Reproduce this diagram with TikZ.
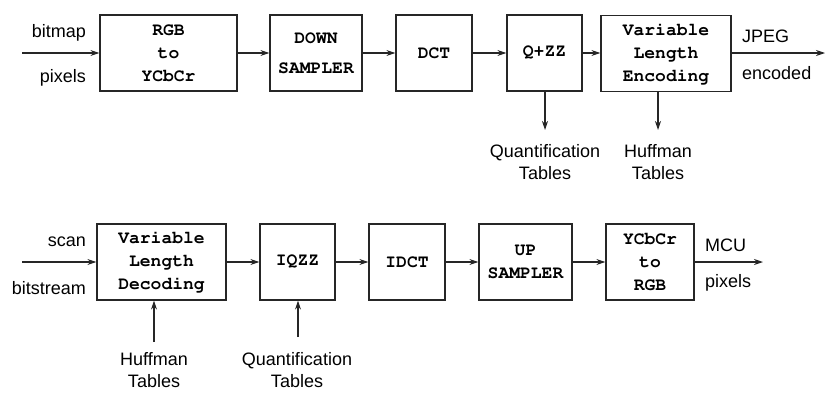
\documentclass[tikz,border=0pt]{standalone}
\usepackage{fontspec}
\setmainfont{Liberation Sans}
\setmonofont{Liberation Mono}
\usetikzlibrary{arrows.meta}
\newcommand{\cour}{\fontencoding{OT1}\fontfamily{pcr}\fontseries{b}\selectfont}
\begin{document}
\begin{tikzpicture}[x=1pt,y=-1pt,
  blk/.style={draw=black!85,line width=1.2pt,minimum height=76pt,inner sep=0pt,align=center,
    font=\fontsize{18}{23}\cour},
  lbl/.style={inner sep=0pt,align=center,font=\fontsize{18}{22}\selectfont},
  arr/.style={line width=1.1pt,draw=black!85,-{Stealth[length=9pt,width=6pt,inset=3pt]}}]
\useasboundingbox (0,0) rectangle (837,405);
% top row
\node[blk,minimum width=137pt] (rgb) at (168.5,53) {RGB\\to\\YCbCr};
\node[blk,minimum width=92pt] (down) at (316,53) {DOWN\\[7pt]SAMPLER};
\node[blk,minimum width=76pt] (dct) at (434,53) {DCT};
\node[blk,minimum width=75pt] (qzz) at (544.5,53) {Q+ZZ};
\node[blk,minimum width=130pt] (vle) at (666,53.5) {Variable\\Length\\Encoding};
\coordinate (tin) at (22,53);
\coordinate (tout) at (825,53);
\coordinate (qt) at (545,130);
\coordinate (ht) at (658,130);
\draw[arr] (tin) -- (rgb.west);
\draw[arr] (rgb) -- (down);
\draw[arr] (down) -- (dct);
\draw[arr] (dct) -- (qzz);
\draw[arr] (qzz) -- (vle.west |- qzz);
\draw[arr] (vle.east |- tout) -- (tout);
\draw[arr] (qzz.south -| qt) -- (qt);
\draw[arr] (vle.south -| ht) -- (ht);
\node[lbl,anchor=east] (bitmap) at (86,33) {bitmap};
\node[lbl,anchor=east] (pix1) at (86,78) {pixels};
\node[lbl,anchor=west] (jpeg) at (742,36) {JPEG};
\node[lbl,anchor=west] (enc) at (742,73) {encoded};
\node[lbl] (qtab1) at (545,162) {Quantification\\Tables};
\node[lbl] (htab1) at (658,162) {Huffman\\Tables};
% bottom row
\node[blk,minimum width=129pt] (vld) at (161.5,262) {Variable\\Length\\Decoding};
\node[blk,minimum width=75pt] (iqzz) at (297.5,262) {IQZZ};
\node[blk,minimum width=76pt] (idct) at (407,262) {IDCT};
\node[blk,minimum width=93pt] (up) at (525.5,262) {UP\\SAMPLER};
\node[blk,minimum width=88pt] (ycc) at (650,262) {YCbCr\\to\\RGB};
\coordinate (bin) at (22,262);
\coordinate (bout) at (763,262);
\coordinate (hb) at (154,342);
\coordinate (qb) at (298,337);
\draw[arr] (bin) -- (vld.west);
\draw[arr] (vld) -- (iqzz);
\draw[arr] (iqzz) -- (idct);
\draw[arr] (idct) -- (up);
\draw[arr] (up) -- (ycc);
\draw[arr] (ycc.east) -- (bout);
\draw[arr] (hb) -- (vld.south -| hb);
\draw[arr] (qb) -- (iqzz.south -| qb);
\node[lbl,anchor=east] (scan) at (86,242) {scan};
\node[lbl,anchor=east] (bits) at (86,288) {bitstream};
\node[lbl,anchor=west] (mcu) at (705,245) {MCU};
\node[lbl,anchor=west] (pix2) at (705,283) {pixels};
\node[lbl] (htab2) at (154,370) {Huffman\\Tables};
\node[lbl] (qtab2) at (297,370) {Quantification\\Tables};
\end{tikzpicture}
\end{document}
